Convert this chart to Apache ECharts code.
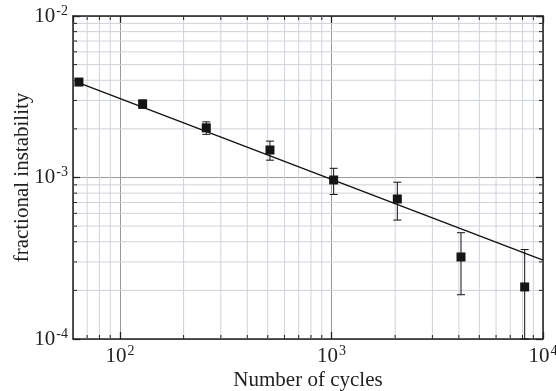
<!DOCTYPE html>
<html lang="en">
<head>
<meta charset="UTF-8">
<title>fractional instability</title>
<script src="https://cdn.jsdelivr.net/npm/echarts@6/dist/echarts.min.js"></script>
<style>
  html, body { margin: 0; padding: 0; background: #fff; }
  #chart { width: 556px; height: 391px; }
</style>
</head>
<body>
<div id="chart"></div>
<script>
// measured points (cycles -> fractional instability)
var cycles = [64, 128, 256, 512, 1024, 2048, 4096, 8192];
var instability = [0.0039, 0.00285, 0.00203, 0.00148, 0.000965, 0.000736, 0.000322, 0.00021];
var errLow = [0.00375, 0.00268, 0.00185, 0.00128, 0.000785, 0.000545, 0.000188, 0.0001];
var errHigh = [0.00405, 0.00302, 0.00221, 0.00168, 0.00114, 0.000935, 0.000455, 0.000358];

// fitted power law, end points
var fitX = [64, 10000];
var fitY = [0.00385, 0.000308];

var xRange = [60, 10000];
var yRange = [0.0001, 0.01];

// minor log ticks (2..9 of each decade)
var minorX = [70, 80, 90, 200, 300, 400, 500, 600, 700, 800, 900,
  2000, 3000, 4000, 5000, 6000, 7000, 8000, 9000];
var minorY = [0.0002, 0.0003, 0.0004, 0.0005, 0.0006, 0.0007, 0.0008, 0.0009,
  0.002, 0.003, 0.004, 0.005, 0.006, 0.007, 0.008, 0.009];

var points = cycles.map(function (c, i) { return [c, instability[i]]; });
var bars = cycles.map(function (c, i) { return [c, errLow[i], errHigh[i]]; });
var fit = fitX.map(function (x, i) { return [x, fitY[i]]; });

var font = '"Liberation Serif", "Times New Roman", serif';

function powLabel(v) {
  var e = Math.log10(v);
  if (Math.abs(e - Math.round(e)) > 1e-6) return '';
  return '{b|10}{s|' + Math.round(e) + '}';
}

var richLabel = {
  b: { fontFamily: font, fontSize: 21, color: '#222', lineHeight: 24 },
  s: { fontFamily: font, fontSize: 14, color: '#222', verticalAlign: 'top', lineHeight: 24, padding: [0, 0, 10, 1] }
};

var frameLine = { show: true, lineStyle: { color: '#222', width: 1.5 } };
var majorTick = { show: true, inside: true, length: 7, lineStyle: { color: '#222', width: 1.3 } };
var gridColor = '#cfd3da';
var tickLen = 4;

var chart = echarts.init(document.getElementById('chart'));

var option = {
  animation: false,
  backgroundColor: '#fff',
  grid: { left: 73, right: 13, top: 16, bottom: 52, outerBoundsMode: 'none', containLabel: false },
  xAxis: [
    {
      type: 'log', logBase: 10, min: xRange[0], max: xRange[1],
      position: 'bottom',
      name: 'Number of cycles', nameLocation: 'middle', nameGap: 31, nameMoveOverlap: false,
      nameTextStyle: { fontFamily: font, fontSize: 21, color: '#222' },
      axisLine: frameLine, axisTick: majorTick,
      axisLabel: { formatter: powLabel, rich: richLabel, margin: 5, showMinLabel: false },
      splitLine: { show: true, lineStyle: { color: '#9a9a9a', width: 1 } }
    },
    {
      type: 'log', logBase: 10, min: xRange[0], max: xRange[1],
      position: 'top',
      axisLine: frameLine, axisTick: majorTick,
      axisLabel: { show: false }, splitLine: { show: false }
    }
  ],
  yAxis: [
    {
      type: 'log', logBase: 10, min: yRange[0], max: yRange[1],
      position: 'left',
      name: 'fractional instability', nameLocation: 'middle', nameGap: 40, nameMoveOverlap: false,
      nameTextStyle: { fontFamily: font, fontSize: 21, color: '#222' },
      axisLine: frameLine, axisTick: majorTick,
      axisLabel: { formatter: powLabel, rich: richLabel, margin: 5 },
      splitLine: { show: true, lineStyle: { color: '#9a9a9a', width: 1 } }
    },
    {
      type: 'log', logBase: 10, min: yRange[0], max: yRange[1],
      position: 'right',
      axisLine: frameLine, axisTick: majorTick,
      axisLabel: { show: false }, splitLine: { show: false }
    }
  ],
  series: [
    {
      // minor vertical grid lines + ticks on top and bottom edges
      name: 'minorX',
      type: 'custom',
      data: minorX.map(function (v) { return [v, yRange[0]]; }),
      silent: true,
      z: 1,
      renderItem: function (params, api) {
        var b = api.coord([api.value(0), yRange[0]]);
        var t = api.coord([api.value(0), yRange[1]]);
        var tick = { stroke: '#222', lineWidth: 1 };
        return {
          type: 'group',
          children: [
            { type: 'line', shape: { x1: b[0], y1: b[1], x2: t[0], y2: t[1] }, style: { stroke: gridColor, lineWidth: 1 } },
            { type: 'line', shape: { x1: b[0], y1: b[1], x2: b[0], y2: b[1] - tickLen }, style: tick },
            { type: 'line', shape: { x1: t[0], y1: t[1], x2: t[0], y2: t[1] + tickLen }, style: tick }
          ]
        };
      }
    },
    {
      // minor horizontal grid lines + ticks on left and right edges
      name: 'minorY',
      type: 'custom',
      data: minorY.map(function (v) { return [xRange[0], v]; }),
      silent: true,
      z: 1,
      renderItem: function (params, api) {
        var l = api.coord([xRange[0], api.value(1)]);
        var r = api.coord([xRange[1], api.value(1)]);
        var tick = { stroke: '#222', lineWidth: 1 };
        return {
          type: 'group',
          children: [
            { type: 'line', shape: { x1: l[0], y1: l[1], x2: r[0], y2: r[1] }, style: { stroke: gridColor, lineWidth: 1 } },
            { type: 'line', shape: { x1: l[0], y1: l[1], x2: l[0] + tickLen, y2: l[1] }, style: tick },
            { type: 'line', shape: { x1: r[0], y1: r[1], x2: r[0] - tickLen, y2: r[1] }, style: tick }
          ]
        };
      }
    },
    {
      name: 'fit',
      type: 'line',
      data: fit,
      showSymbol: false,
      lineStyle: { color: '#111', width: 1.3 },
      z: 3
    },
    {
      name: 'error',
      type: 'custom',
      data: bars,
      z: 4,
      renderItem: function (params, api) {
        var lo = api.coord([api.value(0), api.value(1)]);
        var hi = api.coord([api.value(0), api.value(2)]);
        var w = 4;
        var style = { stroke: '#111', lineWidth: 1 };
        return {
          type: 'group',
          children: [
            { type: 'line', shape: { x1: lo[0], y1: lo[1], x2: hi[0], y2: hi[1] }, style: style },
            { type: 'line', shape: { x1: lo[0] - w, y1: lo[1], x2: lo[0] + w, y2: lo[1] }, style: style },
            { type: 'line', shape: { x1: hi[0] - w, y1: hi[1], x2: hi[0] + w, y2: hi[1] }, style: style }
          ]
        };
      }
    },
    {
      name: 'data',
      type: 'scatter',
      data: points,
      symbol: 'rect',
      symbolSize: 9,
      itemStyle: { color: '#151515', opacity: 1 },
      z: 5
    }
  ]
};

chart.setOption(option);
</script>
</body>
</html>
